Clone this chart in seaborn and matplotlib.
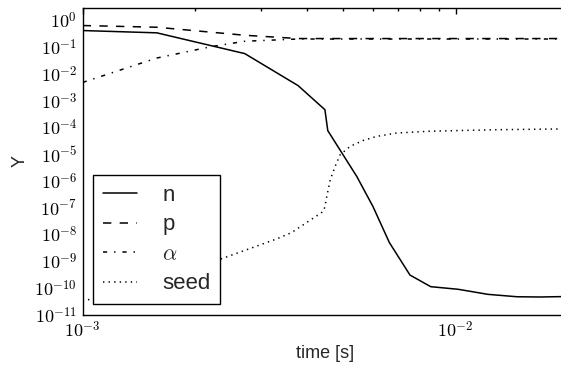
import numpy as np
import pandas as pd
import matplotlib
matplotlib.use("Agg")
import matplotlib.pyplot as plt
import matplotlib.ticker as mticker
import seaborn as sns

# ---- data ----
t_n = [1.0e-3, 1.58e-3, 2.72e-3, 3.78e-3, 4.46e-3, 4.54e-3, 5.43e-3, 6.0e-3,
       6.64e-3, 7.54e-3, 8.57e-3, 1.016e-2, 1.22e-2, 1.46e-2, 1.68e-2, 2.0e-2]
n_vals = [0.414, 0.34, 0.057, 3.64e-3, 4.6e-4, 7.6e-5, 1.48e-6, 1.12e-7,
          5.05e-9, 3.1e-10, 1.14e-10, 9.1e-11, 5.9e-11, 4.8e-11, 4.7e-11, 4.9e-11]

t_p = [1.0e-3, 1.58e-3, 2.72e-3, 3.78e-3, 2.0e-2]
p_vals = [0.637, 0.55, 0.276, 0.208, 0.208]

t_a = [1.0e-3, 1.58e-3, 2.22e-3, 2.72e-3, 3.78e-3, 2.0e-2]
a_vals = [4.8e-3, 0.039, 0.105, 0.165, 0.2, 0.2]

t_s = [1.0e-3, 2.38e-3, 3.31e-3, 3.63e-3, 4.15e-3, 4.415e-3, 4.46e-3, 4.51e-3,
       4.61e-3, 4.75e-3, 4.90e-3, 5.21e-3, 5.65e-3, 6.14e-3, 6.95e-3, 8.53e-3,
       1.288e-2, 1.87e-2, 2.0e-2]
s_vals = [3.2e-11, 1.32e-9, 6.9e-9, 1.19e-8, 4.12e-8, 7.3e-8, 1.09e-7, 2.58e-7,
          1.11e-6, 3.5e-6, 9.6e-6, 1.96e-5, 3.28e-5, 4.63e-5, 6.2e-5, 7.24e-5,
          8.24e-5, 8.75e-5, 8.8e-5]

series_names = ["n", "p", r"$\alpha$", "seed"]

# ---- build long-form table ----
frames = []
for name, t, v in zip(series_names, [t_n, t_p, t_a, t_s], [n_vals, p_vals, a_vals, s_vals]):
    frames.append(pd.DataFrame({"time": t, "Y": v, "series": name}))
df = pd.concat(frames, ignore_index=True)

sns.set_style("white")
plt.rcParams["font.family"] = ["Liberation Sans", "DejaVu Sans"]
plt.rcParams["mathtext.fontset"] = "cm"
plt.rcParams["lines.scale_dashes"] = False

fig = plt.figure(figsize=(5.61, 3.68), dpi=100)
ax = fig.add_axes([82.7 / 561, (368 - 315) / 368, 485.3 / 561, 307.5 / 368])

dashes = {"n": "", "p": (6, 6), r"$\alpha$": (3, 5, 1, 5), "seed": (1, 3)}
sns.lineplot(data=df, x="time", y="Y", style="series", style_order=series_names,
             dashes=dashes, color="black", linewidth=1.1, estimator=None,
             sort=False, legend=False, ax=ax)

ax.set_xscale("log")
ax.set_yscale("log")
ax.set_xlim(1e-3, 2e-2)
ax.set_ylim(1e-11, 3)

ax.set_yticks([10.0 ** k for k in range(-11, 1)])
ax.yaxis.set_minor_locator(mticker.NullLocator())
fmt = mticker.FuncFormatter(lambda v, pos: r"$10^{%d}$" % int(round(np.log10(v))))
ax.xaxis.set_major_formatter(fmt)
ax.yaxis.set_major_formatter(fmt)
ax.xaxis.set_minor_formatter(mticker.NullFormatter())

ax.tick_params(which="both", direction="in", top=True, right=True, colors="black",
               labelsize=13, pad=4)
ax.tick_params(which="major", length=4, width=1)
ax.tick_params(which="minor", length=2, width=1)
for sp in ax.spines.values():
    sp.set_color("black")
    sp.set_linewidth(1.0)

ax.set_xlabel("time [s]", fontsize=13, labelpad=3)
ax.set_ylabel("Y", fontsize=13, labelpad=4)

leg = ax.legend(ax.lines, series_names, loc="lower left",
                bbox_to_anchor=(0.0218, 0.0348), borderaxespad=0,
                fontsize=16, handlelength=1.5, fancybox=False, framealpha=1,
                edgecolor="black", labelspacing=0.38, borderpad=0.45,
                handletextpad=1.15)
leg.get_frame().set_linewidth(1.0)

fig.savefig("out.png", dpi=100)
